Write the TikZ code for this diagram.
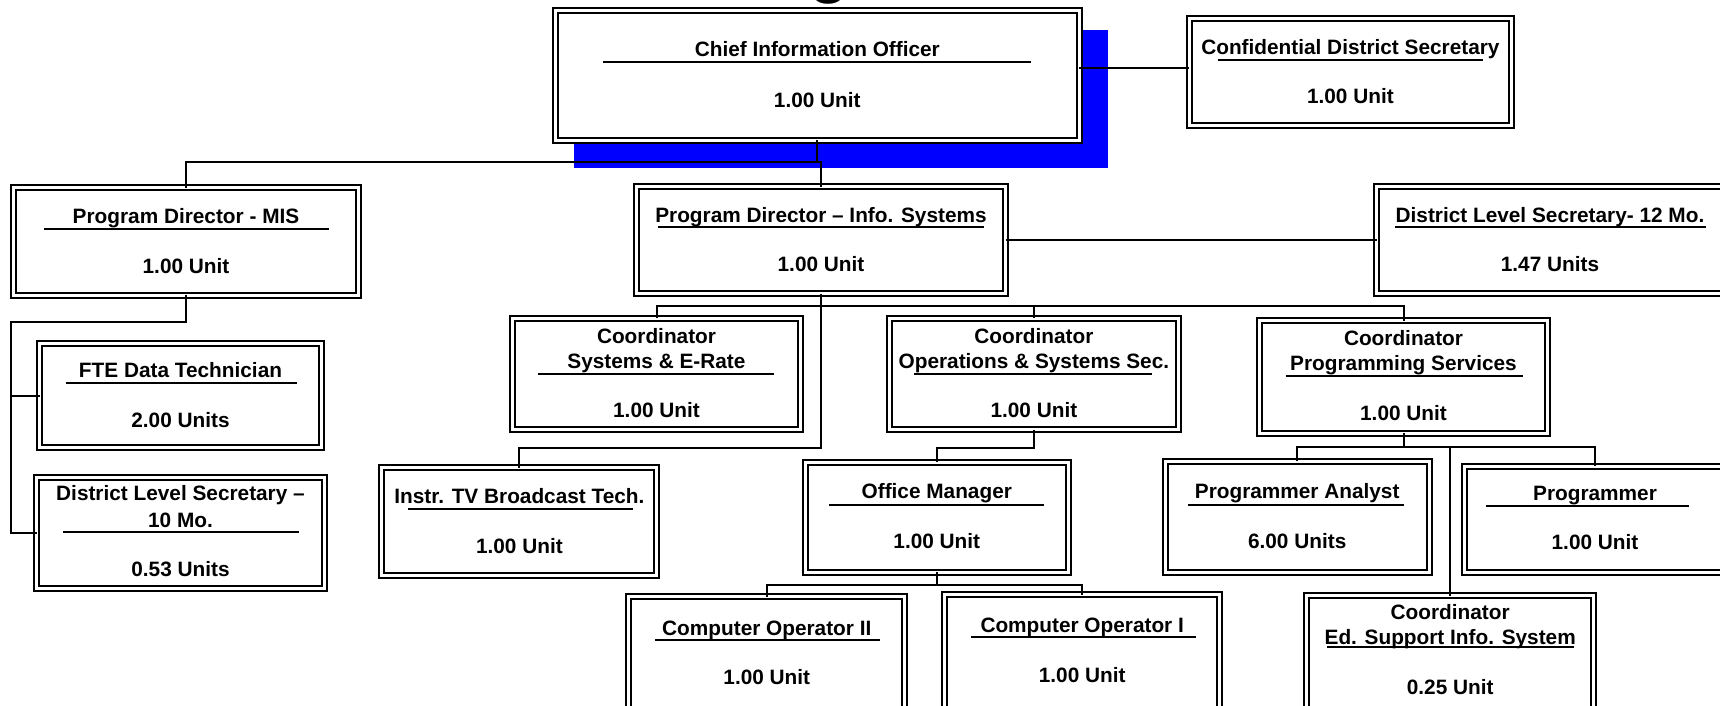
\documentclass[tikz,border=0pt]{standalone}
\usepackage{fontspec}
\setmainfont{Liberation Sans}
\definecolor{shadowblue}{RGB}{0,0,255}

\begin{document}
\begin{tikzpicture}[x=0.5pt,y=-0.5pt,line width=1pt,
  every node/.style={font=\bfseries\fontsize{10.4pt}{12.5pt}\selectfont,inner sep=0pt,
    text height=7.5pt,text depth=0pt},
  post/.style={draw,double,double distance=1.5pt,fill=white,inner sep=0pt,outer sep=0pt}]
  \useasboundingbox (0,0) rectangle (1720,706);
  \clip (0,0) rectangle (1720,706);
  \node[font=\bfseries\fontsize{32.5pt}{36pt}\selectfont,anchor=base] (heading) at (829.5,-9) {g};
  \fill[shadowblue] (573.7,29.6) rectangle (1107.9,167.8);
  % posts
  \node[post,minimum width=262pt,minimum height=65pt]   (cio)   at (817.3,75.2)  {};
  \node[post,minimum width=161.2pt,minimum height=53.5pt] (conf)  at (1350.4,72.4) {};
  \node[post,minimum width=172.6pt,minimum height=53.6pt] (mis)   at (186,241.4)   {};
  \node[post,minimum width=184.7pt,minimum height=53.6pt] (pdis)  at (821,240.3)   {};
  \node[post,minimum width=173.8pt,minimum height=53.6pt] (dls12) at (1550.7,240.3) {};
  \node[post,minimum width=144pt,minimum height=55.7pt]   (cse)   at (656.5,374)   {};
  \node[post,minimum width=144.1pt,minimum height=55.7pt] (cos)   at (1033.9,374)  {};
  \node[post,minimum width=144pt,minimum height=56.3pt]   (cps)   at (1403.5,376.8) {};
  \node[post,minimum width=140.7pt,minimum height=52pt]   (fte)   at (180.5,395.5) {};
  \node[post,minimum width=144pt,minimum height=55.5pt]   (dls10) at (180.5,533)   {};
  \node[post,minimum width=137.5pt,minimum height=54.1pt] (itv)   at (519.4,521.6) {};
  \node[post,minimum width=131.4pt,minimum height=55.2pt] (om)    at (936.8,517.2) {};
  \node[post,minimum width=132pt,minimum height=55.7pt]   (pa)    at (1297.2,516.7) {};
  \node[post,minimum width=130.5pt,minimum height=53pt]   (prg)   at (1595,519.4)  {};
  \node[post,minimum width=138pt,minimum height=70pt]     (coii)  at (766.8,666.7) {};
  \node[post,minimum width=137.5pt,minimum height=71pt]   (coi)   at (1082.2,665.7) {};
  \node[post,minimum width=143.5pt,minimum height=70.5pt] (cesis) at (1450.2,666.2) {};
  % reporting lines
  \coordinate (ciobus)  at (817.3,162.3);
  \coordinate (misbus)  at (11,322);
  \coordinate (pdisbus) at (821,306);
  \coordinate (itvbus)  at (821,447.6);
  \coordinate (cosbus)  at (1033.9,447.6);
  \coordinate (ombus)   at (936.8,584.7);
  \coordinate (cpsbus)  at (1403.5,446.5);
  \draw (cio.south) -- (ciobus) -| (mis.north);
  \draw (ciobus) -| (pdis.north);
  \draw ([yshift=2.2pt]conf.west -| cio.east) -- ([yshift=2.2pt]conf.west);
  \draw (pdis.east) -- (dls12.west);
  \draw (mis.south) |- (misbus) |- (fte.west);
  \draw (misbus) |- (dls10.west);
  \draw (pdis.south) -- (pdisbus) -- (itvbus) -| (itv.north);
  \draw (cse.north) |- (pdisbus) -| (cps.north);
  \draw (pdisbus -| cos.north) -- (cos.north);
  \draw (cos.south) -- (cosbus) -| (om.north);
  \draw (om.south) -- (ombus);
  \draw (coii.north) |- (ombus) -| (coi.north);
  \draw (cps.south) -- (cpsbus);
  \draw (pa.north) |- (cpsbus) -| (prg.north);
  \draw (cesis.north) -- (cesis.north |- cpsbus);
  % titles, rules and units
  \node (cio-t) at (817.3,49.4) {Chief Information Officer};
  \draw (603.3,62.5) -- (1031.1,62.5);
  \node (cio-u) at (817.3,99.8) {1.00 Unit};
  \node (conf-t) at (1350.4,47.2) {Confidential District Secretary};
  \draw (1217.6,60.3) -- (1483.1,60.3);
  \node (conf-u) at (1350.4,96.5) {1.00 Unit};
  \node (mis-t) at (186,216.1) {Program Director - MIS};
  \draw (43.9,229.3) -- (329.1,229.3);
  \node (mis-u) at (186,265.5) {1.00 Unit};
  \node (pdis-t) at (821,215) {Program Director – Info. Systems};
  \draw (658.2,227) -- (984,227);
  \node (pdis-u) at (821,264.4) {1.00 Unit};
  \node (dls12-t) at (1550,215) {District Level Secretary- 12 Mo.};
  \draw (1395.3,227) -- (1705.7,227);
  \node (dls12-u) at (1550,264.4) {1.47 Units};
  \node (cse-t1) at (656.5,335.7) {Coordinator};
  \node (cse-t2) at (656.5,360.9) {Systems \& E-Rate};
  \draw (537.5,374) -- (774.4,374);
  \node (cse-u) at (656.5,410.3) {1.00 Unit};
  \node (cos-t1) at (1033.9,335.7) {Coordinator};
  \node (cos-t2) at (1033.9,360.9) {Operations \& Systems Sec.};
  \draw (913.8,374) -- (1151.8,374);
  \node (cos-u) at (1033.9,410.3) {1.00 Unit};
  \node (cps-t1) at (1403.5,337.9) {Coordinator};
  \node (cps-t2) at (1403.5,363.1) {Programming Services};
  \draw (1285.6,376.3) -- (1522.6,376.3);
  \node (cps-u) at (1403.5,412.5) {1.00 Unit};
  \node (fte-t) at (180.5,369.7) {FTE Data Technician};
  \draw (66,382.5) -- (296.5,382.5);
  \node (fte-u) at (180.5,420.1) {2.00 Units};
  \node (dls10-t1) at (180.5,493) {District Level Secretary –};
  \node (dls10-t2) at (180.5,520) {10 Mo.};
  \draw (63,532) -- (299,532);
  \node (dls10-u) at (180.5,569) {0.53 Units};
  \node (itv-t) at (519.4,495.8) {Instr. TV Broadcast Tech.};
  \draw (408,509) -- (633,509);
  \node (itv-u) at (519.4,546.3) {1.00 Unit};
  \node (om-t) at (936.8,491.4) {Office Manager};
  \draw (829.3,504.6) -- (1044.3,504.6);
  \node (om-u) at (936.8,540.8) {1.00 Unit};
  \node (pa-t) at (1297.2,491.4) {Programmer Analyst};
  \draw (1188,504.6) -- (1404,504.6);
  \node (pa-u) at (1297.2,540.8) {6.00 Units};
  \node (prg-t) at (1595,492.5) {Programmer};
  \draw (1486.4,505.7) -- (1689.3,505.7);
  \node (prg-u) at (1595,541.9) {1.00 Unit};
  \node (coii-t) at (766.8,627.5) {Computer Operator II};
  \draw (654.9,639.5) -- (879.7,639.5);
  \node (coii-u) at (766.8,676.8) {1.00 Unit};
  \node (coi-t) at (1082.2,625.3) {Computer Operator I};
  \draw (970.8,637.3) -- (1195.7,637.3);
  \node (coi-u) at (1082.2,674.6) {1.00 Unit};
  \node (cesis-t1) at (1450.2,612.1) {Coordinator};
  \node (cesis-t2) at (1450.2,637.3) {Ed. Support Info. System};
  \draw (1327.3,647.2) -- (1574.1,647.2);
  \node (cesis-u) at (1450.2,686.7) {0.25 Unit};
\end{tikzpicture}
\end{document}
